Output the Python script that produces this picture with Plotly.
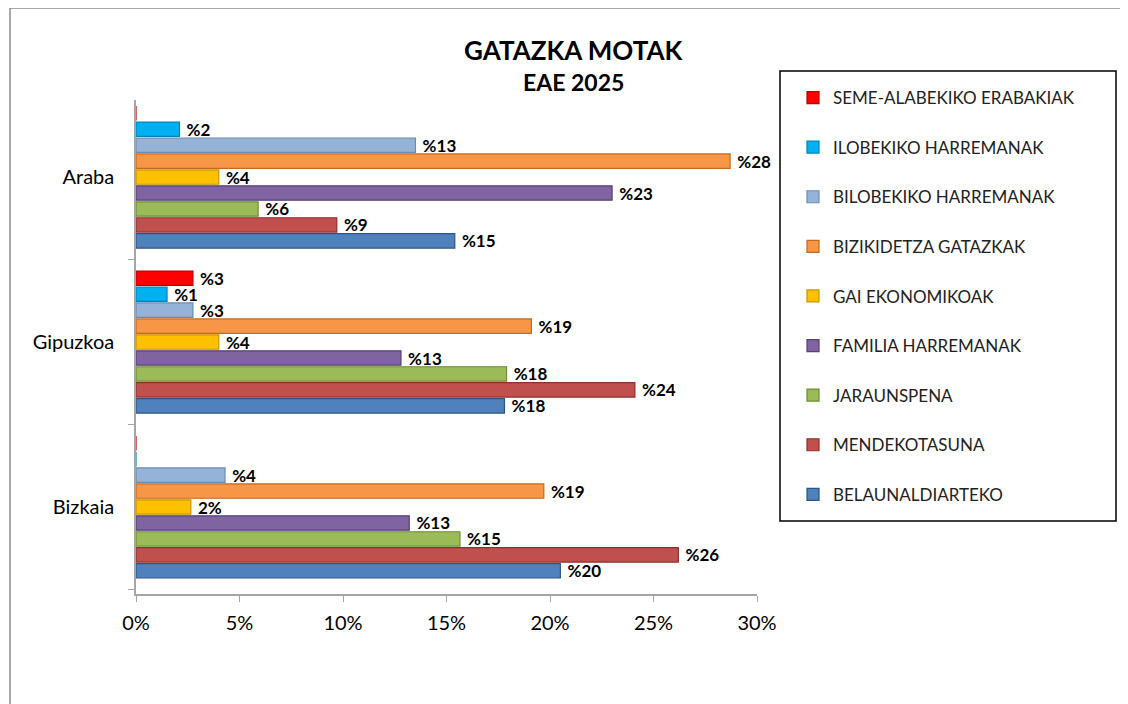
import plotly.graph_objects as go

categories = ["Bizkaia", "Gipuzkoa", "Araba"]

series_names = [
    "BELAUNALDIARTEKO",
    "MENDEKOTASUNA",
    "JARAUNSPENA",
    "FAMILIA HARREMANAK",
    "GAI EKONOMIKOAK",
    "BIZIKIDETZA GATAZKAK",
    "BILOBEKIKO HARREMANAK",
    "ILOBEKIKO HARREMANAK",
    "SEME-ALABEKIKO ERABAKIAK",
]

# values in %, order: Bizkaia, Gipuzkoa, Araba
belaunaldiarteko = [20.5, 17.8, 15.4]
mendekotasuna = [26.2, 24.1, 9.7]
jaraunspena = [15.65, 17.9, 5.9]
familia = [13.2, 12.8, 23.0]
gai_ekonomikoak = [2.65, 4.0, 4.0]
bizikidetza = [19.7, 19.1, 28.7]
bilobekiko = [4.3, 2.75, 13.5]
ilobekiko = [0.0, 1.5, 2.1]
seme_alabekiko = [0.0, 2.75, 0.0]

belaunaldiarteko_lbl = ["%20", "%18", "%15"]
mendekotasuna_lbl = ["%26", "%24", "%9"]
jaraunspena_lbl = ["%15", "%18", "%6"]
familia_lbl = ["%13", "%13", "%23"]
gai_ekonomikoak_lbl = ["2%", "%4", "%4"]
bizikidetza_lbl = ["%19", "%19", "%28"]
bilobekiko_lbl = ["%4", "%3", "%13"]
ilobekiko_lbl = ["", "%1", "%2"]
seme_alabekiko_lbl = ["", "%3", ""]

x_ticks = [0, 5, 10, 15, 20, 25, 30]
x_tick_labels = ["0%", "5%", "10%", "15%", "20%", "25%", "30%"]

values = [belaunaldiarteko, mendekotasuna, jaraunspena, familia, gai_ekonomikoak,
          bizikidetza, bilobekiko, ilobekiko, seme_alabekiko]
labels = [belaunaldiarteko_lbl, mendekotasuna_lbl, jaraunspena_lbl, familia_lbl,
          gai_ekonomikoak_lbl, bizikidetza_lbl, bilobekiko_lbl, ilobekiko_lbl,
          seme_alabekiko_lbl]
colors = ["#4F81BD", "#C0504D", "#9BBB59", "#8064A2", "#FFC000",
          "#F79646", "#95B3D7", "#00B0F0", "#FF0000"]
edges = ["#2C5486", "#8E2F2C", "#6E8C35", "#583F79", "#C79500",
         "#C46A1E", "#6A8BB5", "#0086B8", "#C00000"]

FONT = "Lato, 'Open Sans', sans-serif"
OFF = 8  # page body margin

fig = go.Figure()
n = len(series_names)
for i, (name, v, t, c, e) in enumerate(zip(series_names, values, labels, colors, edges)):
    fig.add_trace(go.Bar(
        y=categories, x=v, name=name, orientation="h",
        marker=dict(color=c, line=dict(color=e, width=1.2)),
        text=[(" " + s) if s else "" for s in t],
        textposition="outside", cliponaxis=False, constraintext="none",
        textfont=dict(family=FONT, size=17, color="black", weight="bold"),
        legendgroup=name, legendrank=n - i,
    ))

# plot area in reference-picture coordinates
L, R, T, B = 136, 757, 100, 594
W, H = 1128 - OFF, 704 - OFF
l, r, t, b = L - OFF, R - OFF, T - OFF, B - OFF
pw, ph = r - l, b - t

def px(x):
    return (x - OFF - l) / pw

def py(y):
    return (b - (y - OFF)) / ph

fig.update_layout(
    width=W, height=H,
    margin=dict(l=l, r=W - r, t=t, b=H - b, pad=0),
    barmode="group", bargap=0.13, bargroupgap=0.1,
    plot_bgcolor="white", paper_bgcolor="white",
    font=dict(family=FONT, color="black"),
    showlegend=True,
    legend=dict(
        traceorder="grouped", tracegroupgap=24.5,
        x=px(793), y=py(80), xanchor="left", yanchor="top",
        xref="paper", yref="paper", maxheight=640,
        bgcolor="rgba(0,0,0,0)", borderwidth=0,
        font=dict(family=FONT, size=17, color="#222222"),
    ),
    xaxis=dict(
        range=[0, 30], tickvals=x_ticks, ticktext=x_tick_labels,
        showgrid=False, zeroline=False, showline=True, linecolor="#A6A6A6",
        linewidth=1.5, ticks="outside", ticklen=6, tickcolor="#A6A6A6",
        tickfont=dict(family=FONT, size=20, color="black"),
        ticklabelstandoff=4,
    ),
    yaxis=dict(
        categoryorder="array", categoryarray=categories,
        range=[-0.527, 2.467],
        showgrid=False, zeroline=False, showline=True, linecolor="#A6A6A6",
        linewidth=1.5, ticks="outside", ticklen=6, tickcolor="#A6A6A6",
        tickson="boundaries",
        tickfont=dict(family=FONT, size=20, color="black"),
        ticklabelstandoff=16,
    ),
    shapes=[
        dict(type="rect", xref="paper", yref="paper",
             x0=px(10), x1=px(1125), y0=py(720), y1=py(8),
             line=dict(color="#8C8C8C", width=1.5), fillcolor="rgba(0,0,0,0)",
             layer="below"),
        dict(type="rect", xref="paper", yref="paper",
             x0=px(780), x1=px(1116), y0=py(521), y1=py(71),
             line=dict(color="black", width=1.5), fillcolor="white",
             layer="below"),
    ],
    annotations=[
        dict(text="<b>GATAZKA MOTAK</b>", xref="paper", yref="paper",
             x=px(574), y=py(50), xanchor="center", yanchor="middle",
             showarrow=False,
             font=dict(family=FONT, size=26, color="black")),
        dict(text="<b>EAE 2025</b>", xref="paper", yref="paper",
             x=px(573), y=py(82), xanchor="center", yanchor="middle",
             showarrow=False,
             font=dict(family=FONT, size=23, color="black")),
    ],
)

fig.write_html("out.html")
